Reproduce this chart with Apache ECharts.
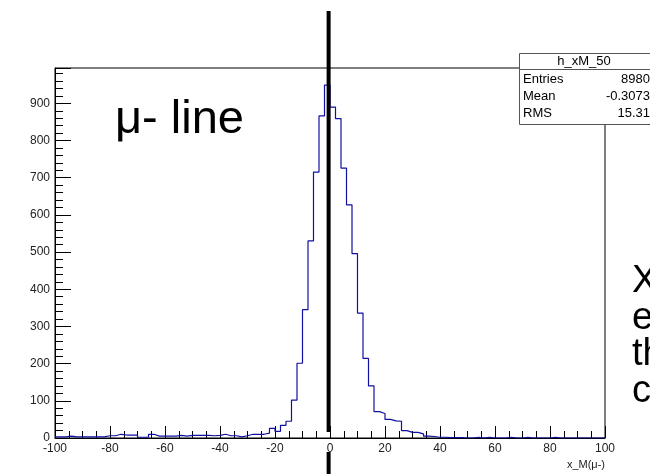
<!DOCTYPE html>
<html>
<head>
<meta charset="utf-8">
<script src="https://cdn.jsdelivr.net/npm/echarts@6/dist/echarts.min.js"></script>
<style>
html,body{margin:0;padding:0;background:#fff;}
#chart{width:650px;height:474px;}
</style>
</head>
<body>
<div id="chart"></div>
<script>
// Histogram h_xM_50: 100 bins of width 2 from -100 to 100
const xMin = -100;
const xMax = 100;
const binWidth = 2;
const counts = [
  3, 3, 5, 3, 3, 3, 3, 3, 3, 6,          // left edges -100 .. -82
  6, 10, 8, 8, 8, 2, 2, 10, 5, 5,        // -80 .. -62
  5, 5, 7, 5, 7, 7, 7, 7, 6, 7,          // -60 .. -42
  10, 6, 6, 3, 6, 10, 10, 10, 13, 26,    // -40 .. -22
  18, 34, 45, 102, 201, 345, 530, 715, 866, 949, // -20 .. -2
  890, 859, 726, 627, 496, 336, 214, 140, 71, 66, // 0 .. 18
  50, 46, 45, 20, 15, 15, 11, 5, 4, 2,   // 20 .. 38
  2, 1, 1, 1, 0, 0, 2, 0, 2, 0,          // 40 .. 58
  0, 0, 2, 0, 0, 2, 0, 0, 0, 0,          // 60 .. 78
  2, 0, 0, 0, 0, 0, 0, 0, 0, 0           // 80 .. 98
];
const yMax = 995;
const yTicks = [0, 100, 200, 300, 400, 500, 600, 700, 800, 900];
const xTicks = [-100, -80, -60, -40, -20, 0, 20, 40, 60, 80, 100];
const histName = 'h_xM_50';
const statLabels = ['Entries', 'Mean', 'RMS'];
const statValues = ['8980', '-0.3073', '15.31'];
const xTitle = 'x_M(\u03bc-)';
const annotationX = -0.5;
const annotationText = '\u03bc- line';
const sideText = ['X', 'e', 'th', 'c'];

// step outline points: left edge of each bin, plus right edge of last
const stepData = counts.map((c, i) => [xMin + i * binWidth, c]);
stepData.push([xMax, counts[counts.length - 1]]);

const chart = echarts.init(document.getElementById('chart'));
const font = 'Liberation Sans, Arial, Helvetica, sans-serif';

chart.setOption({
  animation: false,
  backgroundColor: '#ffffff',
  grid: {left: 55, right: 45, top: 68, bottom: 36, show: true, borderColor: '#000', borderWidth: 1, backgroundColor: 'transparent'},
  xAxis: {
    type: 'value', min: xMin, max: xMax, interval: 20,
    axisLine: {show: true, onZero: false, lineStyle: {color: '#000', width: 1}},
    axisTick: {show: true, inside: true, length: 12, lineStyle: {color: '#000'}},
    minorTick: {show: true, splitNumber: 4, length: 7, lineStyle: {color: '#000'}},
    splitLine: {show: false},
    axisLabel: {color: '#222', fontFamily: font, fontSize: 12, margin: 5,
      formatter: v => xTicks.indexOf(v) >= 0 ? String(v) : ''}
  },
  yAxis: {
    type: 'value', min: 0, max: yMax, interval: 100,
    axisLine: {show: true, onZero: false, lineStyle: {color: '#000', width: 1}},
    axisTick: {show: true, inside: true, length: 16, lineStyle: {color: '#000'}},
    minorTick: {show: true, splitNumber: 5, length: 8, lineStyle: {color: '#000'}},
    splitLine: {show: false},
    axisLabel: {color: '#222', fontFamily: font, fontSize: 12, margin: 5,
      formatter: v => yTicks.indexOf(v) >= 0 ? String(v) : ''}
  },
  series: [{
    type: 'line',
    step: 'end',
    data: stepData,
    showSymbol: false,
    symbol: 'none',
    lineStyle: {color: '#1010a0', width: 1.2},
    z: 3
  }]
});

function drawOverlay() {
  const px = chart.convertToPixel({xAxisIndex: 0}, annotationX);
  const gridRight = 650 - 45;
  const graphics = [
    // stats box
    {type: 'rect', shape: {x: 519.5, y: 53.5, width: 140, height: 71}, style: {fill: '#fff', stroke: '#555', lineWidth: 1}, z: 10},
    {type: 'line', shape: {x1: 519.5, y1: 69.5, x2: 660, y2: 69.5}, style: {stroke: '#555', lineWidth: 1}, z: 11},
    {type: 'text', x: 584, y: 61, style: {text: histName, font: '13px ' + font, fill: '#000', textAlign: 'center', textVerticalAlign: 'middle'}, z: 11}
  ];
  const rowY = [79, 96, 113];
  statLabels.forEach((lab, i) => {
    graphics.push({type: 'text', x: 523, y: rowY[i], style: {text: lab, font: '13px ' + font, fill: '#000', textVerticalAlign: 'middle'}, z: 11});
    graphics.push({type: 'text', x: 650, y: rowY[i], style: {text: statValues[i], font: '13px ' + font, fill: '#000', textAlign: 'right', textVerticalAlign: 'middle'}, z: 11});
  });
  // axis title
  graphics.push({type: 'text', x: gridRight, y: 465, style: {text: xTitle, font: '11px ' + font, fill: '#222', textAlign: 'right', textVerticalAlign: 'middle'}, z: 11});
  // thick annotation line (broken near the axis label)
  graphics.push({type: 'line', shape: {x1: px, y1: 11, x2: px, y2: 432}, style: {stroke: '#000', lineWidth: 4}, z: 12});
  graphics.push({type: 'line', shape: {x1: px, y1: 452, x2: px, y2: 474}, style: {stroke: '#000', lineWidth: 4}, z: 12});
  // slide texts
  graphics.push({type: 'text', x: 115, y: 120, style: {text: annotationText, font: '47px ' + font, fill: '#000', textVerticalAlign: 'middle'}, z: 12});
  sideText.forEach((t, i) => {
    graphics.push({type: 'text', x: 632, y: 282 + i * 36.5, style: {text: t, font: '38px ' + font, fill: '#000', textVerticalAlign: 'middle'}, z: 12});
  });
  chart.setOption({graphic: graphics});
}
drawOverlay();
</script>
</body>
</html>
